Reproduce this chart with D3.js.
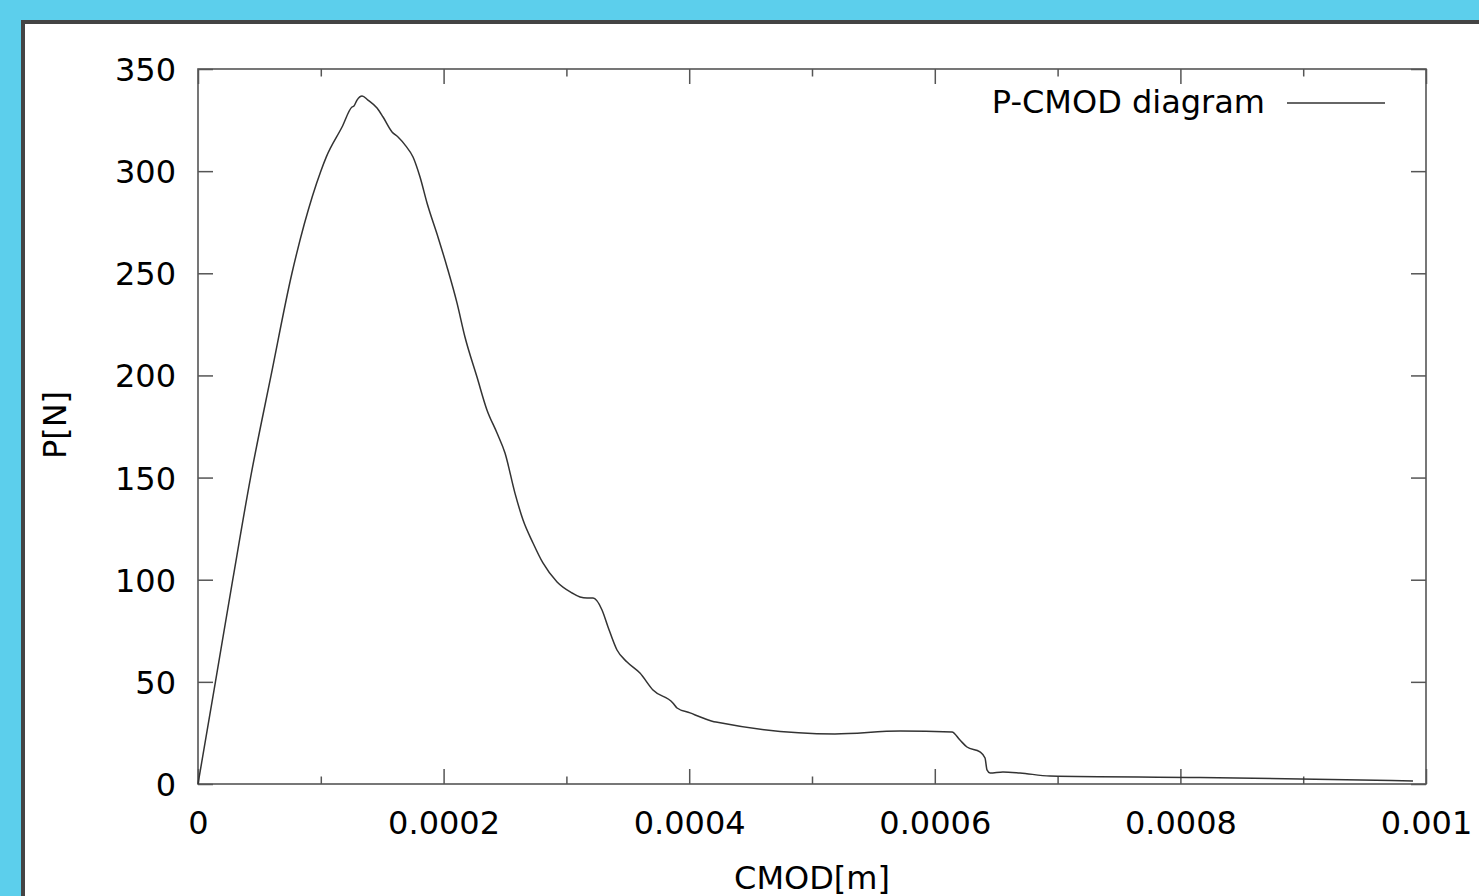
<!DOCTYPE html>
<html>
<head>
<meta charset="utf-8">
<script src="https://cdn.jsdelivr.net/npm/d3@7"></script>
<style>
  body { margin: 0; background: #5ccfec; overflow: hidden; }
  svg { display: block; }
  text { font-family: "DejaVu Sans", sans-serif; fill: #000; }
</style>
</head>
<body>
<div id="chart"></div>
<script>

// CMOD [m] and load P [N]
var cmod = [0, 0.0000142, 0.0000283, 0.0000428, 0.0000595, 0.0000765, 0.0000865, 0.0001, 0.0001045,
	0.0001173, 0.0001254, 0.000127, 0.0001295, 0.0001336, 0.0001384, 0.0001458, 0.0001507, 0.000158,
	0.0001629, 0.000169, 0.0001751, 0.0001808, 0.0001865, 0.0001954, 0.0002028, 0.0002109, 0.0002174,
	0.0002272, 0.0002353, 0.0002435, 0.00025, 0.0002581, 0.0002647, 0.0002728, 0.0002809, 0.0002924,
	0.0003046, 0.0003111, 0.0003168, 0.0003217, 0.000329, 0.0003339, 0.0003412, 0.0003494, 0.0003599,
	0.0003705, 0.0003867, 0.0003901, 0.0004007, 0.0004112, 0.0004218, 0.0005187, 0.0005717, 0.000614,
	0.0006205, 0.0006262, 0.0006368, 0.0006409, 0.0006425, 0.000645, 0.0006555, 0.0006694, 0.0006938,
	0.000816, 0.0009894];

var load = [0, 50, 100, 150, 200, 250, 274, 300, 307,
	321.6, 331.4, 331.9, 334.8, 336.8, 334.8, 330.9, 326.5, 319.2,
	316.7, 312.5, 306.9, 297.1, 284.4, 267.8, 253.1, 235.5, 218.8,
	199.2, 183.1, 171.8, 162.0, 142.4, 129.2, 118.0, 108.2, 98.9,
	93.5, 91.5, 91.0, 91.0, 85.2, 76.9, 65.6, 59.7, 54.3,
	46.0, 39.7, 37.2, 34.8, 32.3, 30.3, 24.5, 25.9, 25.5,
	21.5, 18.1, 15.7, 12.7, 6.9, 5.4, 5.9, 5.4, 3.9,
	3.2, 1.5];

var xTicks = [0, 0.0002, 0.0004, 0.0006, 0.0008, 0.001];
var xTickLabels = ["0", "0.0002", "0.0004", "0.0006", "0.0008", "0.001"];
var xMinor = [0.0001, 0.0003, 0.0005, 0.0007, 0.0009];
var yTicks = [0, 50, 100, 150, 200, 250, 300, 350];

var W = 1479, H = 896;
var pLeft = 198, pRight = 1426, pTop = 69, pBottom = 784;

var svg = d3.select("#chart").append("svg")
	.attr("width", W)
	.attr("height", H);

// frame
svg.append("rect")
	.attr("x", 23).attr("y", 22)
	.attr("width", W + 40).attr("height", H + 40)
	.attr("fill", "#fff")
	.attr("stroke", "#444")
	.attr("stroke-width", 4);

var x = d3.scaleLinear().domain([0, 0.001]).range([pLeft, pRight]);
var y = d3.scaleLinear().domain([0, 350]).range([pBottom, pTop]);

var fmtX = function(d) { return xTickLabels[xTicks.indexOf(d)]; };

// ticks, gnuplot style: inward and mirrored
function tickAxis(axis, tx, ty) {
	var g = svg.append("g").attr("transform", "translate(" + tx + "," + ty + ")").call(axis);
	g.select(".domain").remove();
	g.selectAll(".tick line").attr("stroke", "#555").attr("stroke-width", 1.5);
	return g;
}

var gx = tickAxis(d3.axisBottom(x).tickValues(xTicks).tickSize(-15).tickFormat(fmtX), 0, pBottom);
gx.selectAll(".tick text").attr("y", 50).attr("dy", 0).style("font-size", "32px")
	.style("font-family", "DejaVu Sans");
tickAxis(d3.axisBottom(x).tickValues(xMinor).tickSize(-7.5).tickFormat(""), 0, pBottom);
tickAxis(d3.axisTop(x).tickValues(xTicks).tickSize(-15).tickFormat(""), 0, pTop);
tickAxis(d3.axisTop(x).tickValues(xMinor).tickSize(-7.5).tickFormat(""), 0, pTop);

var gy = tickAxis(d3.axisLeft(y).tickValues(yTicks).tickSize(-15).tickFormat(d3.format("d")), pLeft, 0);
gy.selectAll(".tick text").attr("x", -22).attr("dy", "0.36em").style("font-size", "32px")
	.style("font-family", "DejaVu Sans");
tickAxis(d3.axisRight(y).tickValues(yTicks).tickSize(-15).tickFormat(""), pRight, 0);

// border
svg.append("rect")
	.attr("x", pLeft).attr("y", pTop)
	.attr("width", pRight - pLeft).attr("height", pBottom - pTop)
	.attr("fill", "none")
	.attr("stroke", "#555")
	.attr("stroke-width", 1.6);

// curve
var pts = cmod.map(function(c, i) { return [c, load[i]]; });
var line = d3.line()
	.x(function(d) { return x(d[0]); })
	.y(function(d) { return y(d[1]); })
	.curve(d3.curveMonotoneX);

svg.append("path")
	.datum(pts)
	.attr("d", line)
	.attr("fill", "none")
	.attr("stroke", "#333")
	.attr("stroke-width", 1.5);

// legend
svg.append("text")
	.attr("x", 1265).attr("y", 113)
	.attr("text-anchor", "end")
	.style("font-size", "32px")
	.text("P-CMOD diagram");
svg.append("line")
	.attr("x1", 1287).attr("x2", 1385)
	.attr("y1", 103).attr("y2", 103)
	.attr("stroke", "#333")
	.attr("stroke-width", 1.5);

// axis labels
svg.append("text")
	.attr("x", (pLeft + pRight) / 2).attr("y", 889)
	.attr("text-anchor", "middle")
	.style("font-size", "32px")
	.text("CMOD[m]");

svg.append("text")
	.attr("transform", "translate(66,425) rotate(-90)")
	.attr("text-anchor", "middle")
	.style("font-size", "32px")
	.text("P[N]");

</script>
</body>
</html>
